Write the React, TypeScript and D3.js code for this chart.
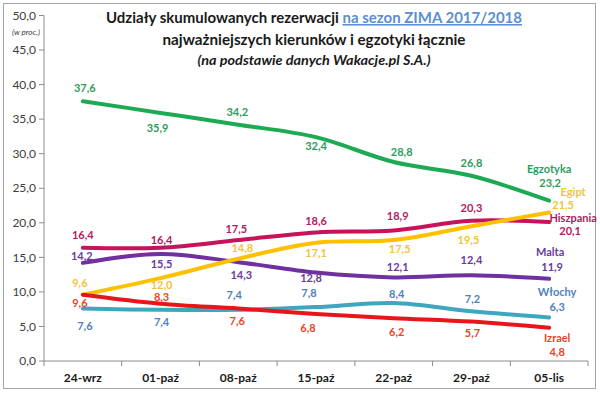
import * as d3 from 'd3';

const CATEGORIES = ['24-wrz', '01-paź', '08-paź', '15-paź', '22-paź', '29-paź', '05-lis'];
const Y_TICKS = [0, 5, 10, 15, 20, 25, 30, 35, 40, 45, 50];

const EGZOTYKA = [37.6, 35.9, 34.2, 32.4, 28.8, 26.8, 23.2];
const EGIPT = [9.6, 12.0, 14.8, 17.1, 17.5, 19.5, 21.5];
const HISZPANIA = [16.4, 16.4, 17.5, 18.6, 18.9, 20.3, 20.1];
const MALTA = [14.2, 15.5, 14.3, 12.8, 12.1, 12.4, 11.9];
const WLOCHY = [7.6, 7.4, 7.4, 7.8, 8.4, 7.2, 6.3];
const IZRAEL = [9.6, 8.3, 7.6, 6.8, 6.2, 5.7, 4.8];

// label nudges [dx, dy] from each point, last one is for the value under the series name
const SERIES = [
  {
    name: 'Włochy', values: WLOCHY, line: '#3ea6bd', text: '#4f81bd',
    offs: [[2, 18], [1, 12], [-4, -15], [-7, -14], [3, -9], [1, -12], [8, -10]], nameOff: [8, -25],
  },
  {
    name: 'Malta', values: MALTA, line: '#7030a0', text: '#6b3a9c',
    offs: [[-1, -7], [1, 10], [3, 13], [-5, 6], [4, -10], [0, -15], [3, -12]], nameOff: [1, -27],
  },
  {
    name: 'Hiszpania', values: HISZPANIA, line: '#c5135c', text: '#b5185e',
    offs: [[0, -13], [1, -8], [-2, -11], [0, -11], [4, -14], [0, -13], [21, 9]], nameOff: [24, -4],
  },
  {
    name: 'Egipt', values: EGIPT, line: '#ffc000', text: '#f2c33c',
    offs: [[-3, -12], [1, 7], [4, -11], [0, 10], [6, 9], [-3, 14], [14, -7]], nameOff: [24, -20],
  },
  {
    name: 'Izrael', values: IZRAEL, line: '#e8161b', text: '#e8452a',
    offs: [[-3, 8], [1, -6], [-1, 13], [-8, 14], [3, 14], [1, 12], [8, 24]], nameOff: [8, 10],
  },
  {
    name: 'Egzotyka', values: EGZOTYKA, line: '#1eaa52', text: '#2f9c5e',
    offs: [[2, -13], [-3, 15], [-1, -13], [0, 9], [8, -10], [0, -13], [1, -18]], nameOff: [0, -32],
  },
];

const W = 600;
const H = 394;
const FONT = 'Lato, "Open Sans", sans-serif';

const fmt = (v: number) => v.toFixed(1).replace('.', ',');

export default function App() {
  const x = d3.scaleBand<string>().domain(CATEGORIES).range([44, 588]).paddingInner(0).paddingOuter(0);
  const cx = (c: string) => (x(c) ?? 0) + x.bandwidth() / 2;
  const y = d3.scaleLinear().domain([0, 50]).range([361, 15.5]);

  const line = d3
    .line<number>()
    .x((_, i) => cx(CATEGORIES[i]))
    .y((d) => y(d))
    .curve(d3.curveCatmullRom.alpha(0.5));

  const xTicks = [...CATEGORIES.map((c) => x(c) ?? 0), 588];

  return (
    <div style={{ position: 'fixed', left: 0, top: 0 }}>
      <svg width={W} height={H} style={{ display: 'block', background: '#fff' }} fontFamily={FONT}>
        <rect x={3.5} y={3.5} width={592} height={385} fill="#fff" stroke="#a6a6a6" strokeWidth={1} />

        {/* title */}
        <text x={314} y={23} textAnchor="middle" fontSize={15.5} fontWeight={700} textLength={416} lengthAdjust="spacingAndGlyphs">
          <tspan fill="#1a1a1a">Udziały skumulowanych rezerwacji </tspan>
          <tspan fill="#5b8fd1" textDecoration="underline">na sezon ZIMA 2017/2018</tspan>
        </text>
        <text x={314} y={45} textAnchor="middle" fontSize={15.5} fontWeight={700} fill="#1a1a1a" textLength={303} lengthAdjust="spacingAndGlyphs">
          najważniejszych kierunków i egzotyki łącznie
        </text>
        <text x={314} y={65} textAnchor="middle" fontSize={13} fontWeight={700} fontStyle="italic" fill="#1a1a1a" textLength={233} lengthAdjust="spacingAndGlyphs">
          (na podstawie danych Wakacje.pl S.A.)
        </text>

        {/* y axis */}
        <line x1={44} x2={44} y1={y(50)} y2={y(0)} stroke="#8c8c8c" />
        {Y_TICKS.map((t) => (
          <g key={t}>
            <line x1={39} x2={44} y1={y(t)} y2={y(t)} stroke="#8c8c8c" />
            <text x={36} y={y(t)} dy="0.35em" textAnchor="end" fontSize={12} fill="#404040">
              {fmt(t)}
            </text>
          </g>
        ))}
        <text x={26} y={32} dy="0.35em" textAnchor="middle" fontSize={8} fontStyle="italic" fill="#404040">
          (w proc.)
        </text>

        {/* x axis */}
        <line x1={44} x2={588} y1={y(0)} y2={y(0)} stroke="#8c8c8c" />
        {xTicks.map((t, i) => (
          <line key={i} x1={t} x2={t} y1={y(0)} y2={y(0) + 5} stroke="#8c8c8c" />
        ))}
        {CATEGORIES.map((c) => (
          <text key={c} x={cx(c)} y={378} dy="0.35em" textAnchor="middle" fontSize={12} fontWeight={700} fill="#1a1a1a">
            {c}
          </text>
        ))}

        {/* series */}
        {SERIES.map((s) => (
          <path key={s.name} d={line(s.values) ?? ''} fill="none" stroke={s.line} strokeWidth={4} strokeLinecap="round" strokeLinejoin="round" />
        ))}
        {SERIES.map((s) => (
          <g key={s.name + '-labels'} fill={s.text} fontSize={11} fontWeight={700} textAnchor="middle">
            {s.values.map((v, i) => (
              <text key={i} x={cx(CATEGORIES[i]) + s.offs[i][0]} y={y(v) + s.offs[i][1]} dy="0.35em">
                {fmt(v)}
              </text>
            ))}
            <text
              x={cx(CATEGORIES[CATEGORIES.length - 1]) + s.nameOff[0]}
              y={y(s.values[s.values.length - 1]) + s.nameOff[1]}
              dy="0.35em"
            >
              {s.name}
            </text>
          </g>
        ))}
      </svg>
    </div>
  );
}
